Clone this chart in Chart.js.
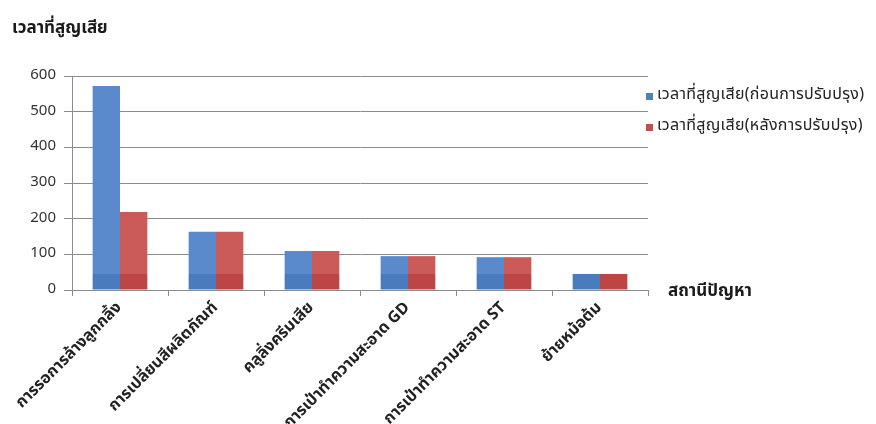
<!DOCTYPE html>
<html>
<head>
<meta charset="utf-8">
<script src="https://cdn.jsdelivr.net/npm/chart.js@4.4.1/dist/chart.umd.min.js"></script>
<style>
  html, body { margin: 0; padding: 0; background: #fff; overflow: hidden; }
  #wrap { width: 876px; height: 424px; overflow: hidden; }
</style>
</head>
<body>
<div id="wrap"><canvas id="myChart" width="876" height="480"></canvas></div>
<script>
var categories = [
    'การรอการล้างลูกกลิ้ง',
    'การเปลี่ยนสีผลิตภัณฑ์',
    'คลูลิ่งครีมเสีย',
    'การเป่าทำความสะอาด GD',
    'การเป่าทำความสะอาด ST',
    'ย้ายหม้อต้ม'
];
var seriesNames = ['เวลาที่สูญเสีย(ก่อนการปรับปรุง)', 'เวลาที่สูญเสีย(หลังการปรับปรุง)'];
var beforeValues = [572, 163, 109, 95, 92, 45];
var afterValues = [219, 163, 109, 95, 92, 45];
var yTicks = [0, 100, 200, 300, 400, 500, 600];

var FONT = "Tahoma, 'Noto Sans Thai', 'Noto Sans', sans-serif";
Chart.defaults.font.family = FONT;

// the bars in the picture are a touch darker near the floor
function bandFill(light, dark) {
    return function(context) {
        var chart = context.chart;
        if (!chart.chartArea) return light;
        var y = chart.scales.y;
        var top = y.getPixelForValue(600), bot = y.getPixelForValue(0);
        var edge = (y.getPixelForValue(45) - top) / (bot - top);
        var g = chart.ctx.createLinearGradient(0, top, 0, bot);
        g.addColorStop(0, light);
        g.addColorStop(edge, light);
        g.addColorStop(edge, dark);
        g.addColorStop(1, dark);
        return g;
    };
}

function drawExtras(chart) {
    var ctx = chart.ctx;
    var area = chart.chartArea;
    ctx.save();
    // y title, sits above the axis
    ctx.font = "bold 17px " + FONT;
    ctx.fillStyle = '#1a1a1a';
    ctx.textBaseline = 'middle';
    ctx.textAlign = 'left';
    ctx.fillText('เวลาที่สูญเสีย', 12, 30);
    // x title, right of the axis end
    ctx.fillText('สถานีปัญหา', area.right + 20, area.bottom + 3);

    // legend
    ctx.font = "16px " + FONT;
    ctx.letterSpacing = '0.3px';
    chart.data.datasets.forEach(function(ds, i) {
        var ly = 96 + i * 31;
        ctx.fillStyle = ds.legendColor;
        ctx.fillRect(area.right - 2, ly - 3, 7, 7);
        ctx.fillStyle = '#222';
        ctx.fillText(ds.label, area.right + 9, ly);
    });
    ctx.restore();
}

var ctx = document.getElementById('myChart').getContext('2d');
var myChart = new Chart(ctx, {
    type: 'bar',
    data: {
        labels: categories,
        datasets: [{
            label: seriesNames[0],
            data: beforeValues,
            backgroundColor: bandFill('#5a8acb', '#4a7bbd'),
            legendColor: '#4f81bd',
            borderWidth: 0
        }, {
            label: seriesNames[1],
            data: afterValues,
            backgroundColor: bandFill('#cb5b58', '#bd4644'),
            legendColor: '#c0504d',
            borderWidth: 0
        }]
    },
    options: {
        responsive: false,
        animation: false,
        layout: {
            padding: { left: 0, right: 228, top: 76, bottom: 0 }
        },
        datasets: {
            bar: { categoryPercentage: 0.57, barPercentage: 1.0 }
        },
        plugins: {
            legend: { display: false },
            tooltip: { enabled: false }
        },
        scales: {
            x: {
                grid: {
                    display: true,
                    drawOnChartArea: false,
                    offset: true,
                    tickLength: 6,
                    color: '#8c8c8c'
                },
                border: { color: '#8c8c8c' },
                ticks: {
                    autoSkip: false,
                    minRotation: 45,
                    maxRotation: 45,
                    padding: 3,
                    color: '#222',
                    font: { size: 16, weight: 'bold' }
                },
                afterFit: function(scale) { scale.height = 190; }
            },
            y: {
                min: 0,
                max: 600,
                afterBuildTicks: function(scale) {
                    scale.ticks = yTicks.map(function(v) { return { value: v }; });
                },
                grid: {
                    color: '#8c8c8c',
                    tickLength: 8
                },
                border: { color: '#8c8c8c' },
                ticks: {
                    padding: 8,
                    color: '#333',
                    font: { size: 15 }
                },
                afterFit: function(scale) { scale.width = 72; }
            }
        }
    },
    plugins: [{
        afterDraw: drawExtras
    }]
});
</script>
</body>
</html>
